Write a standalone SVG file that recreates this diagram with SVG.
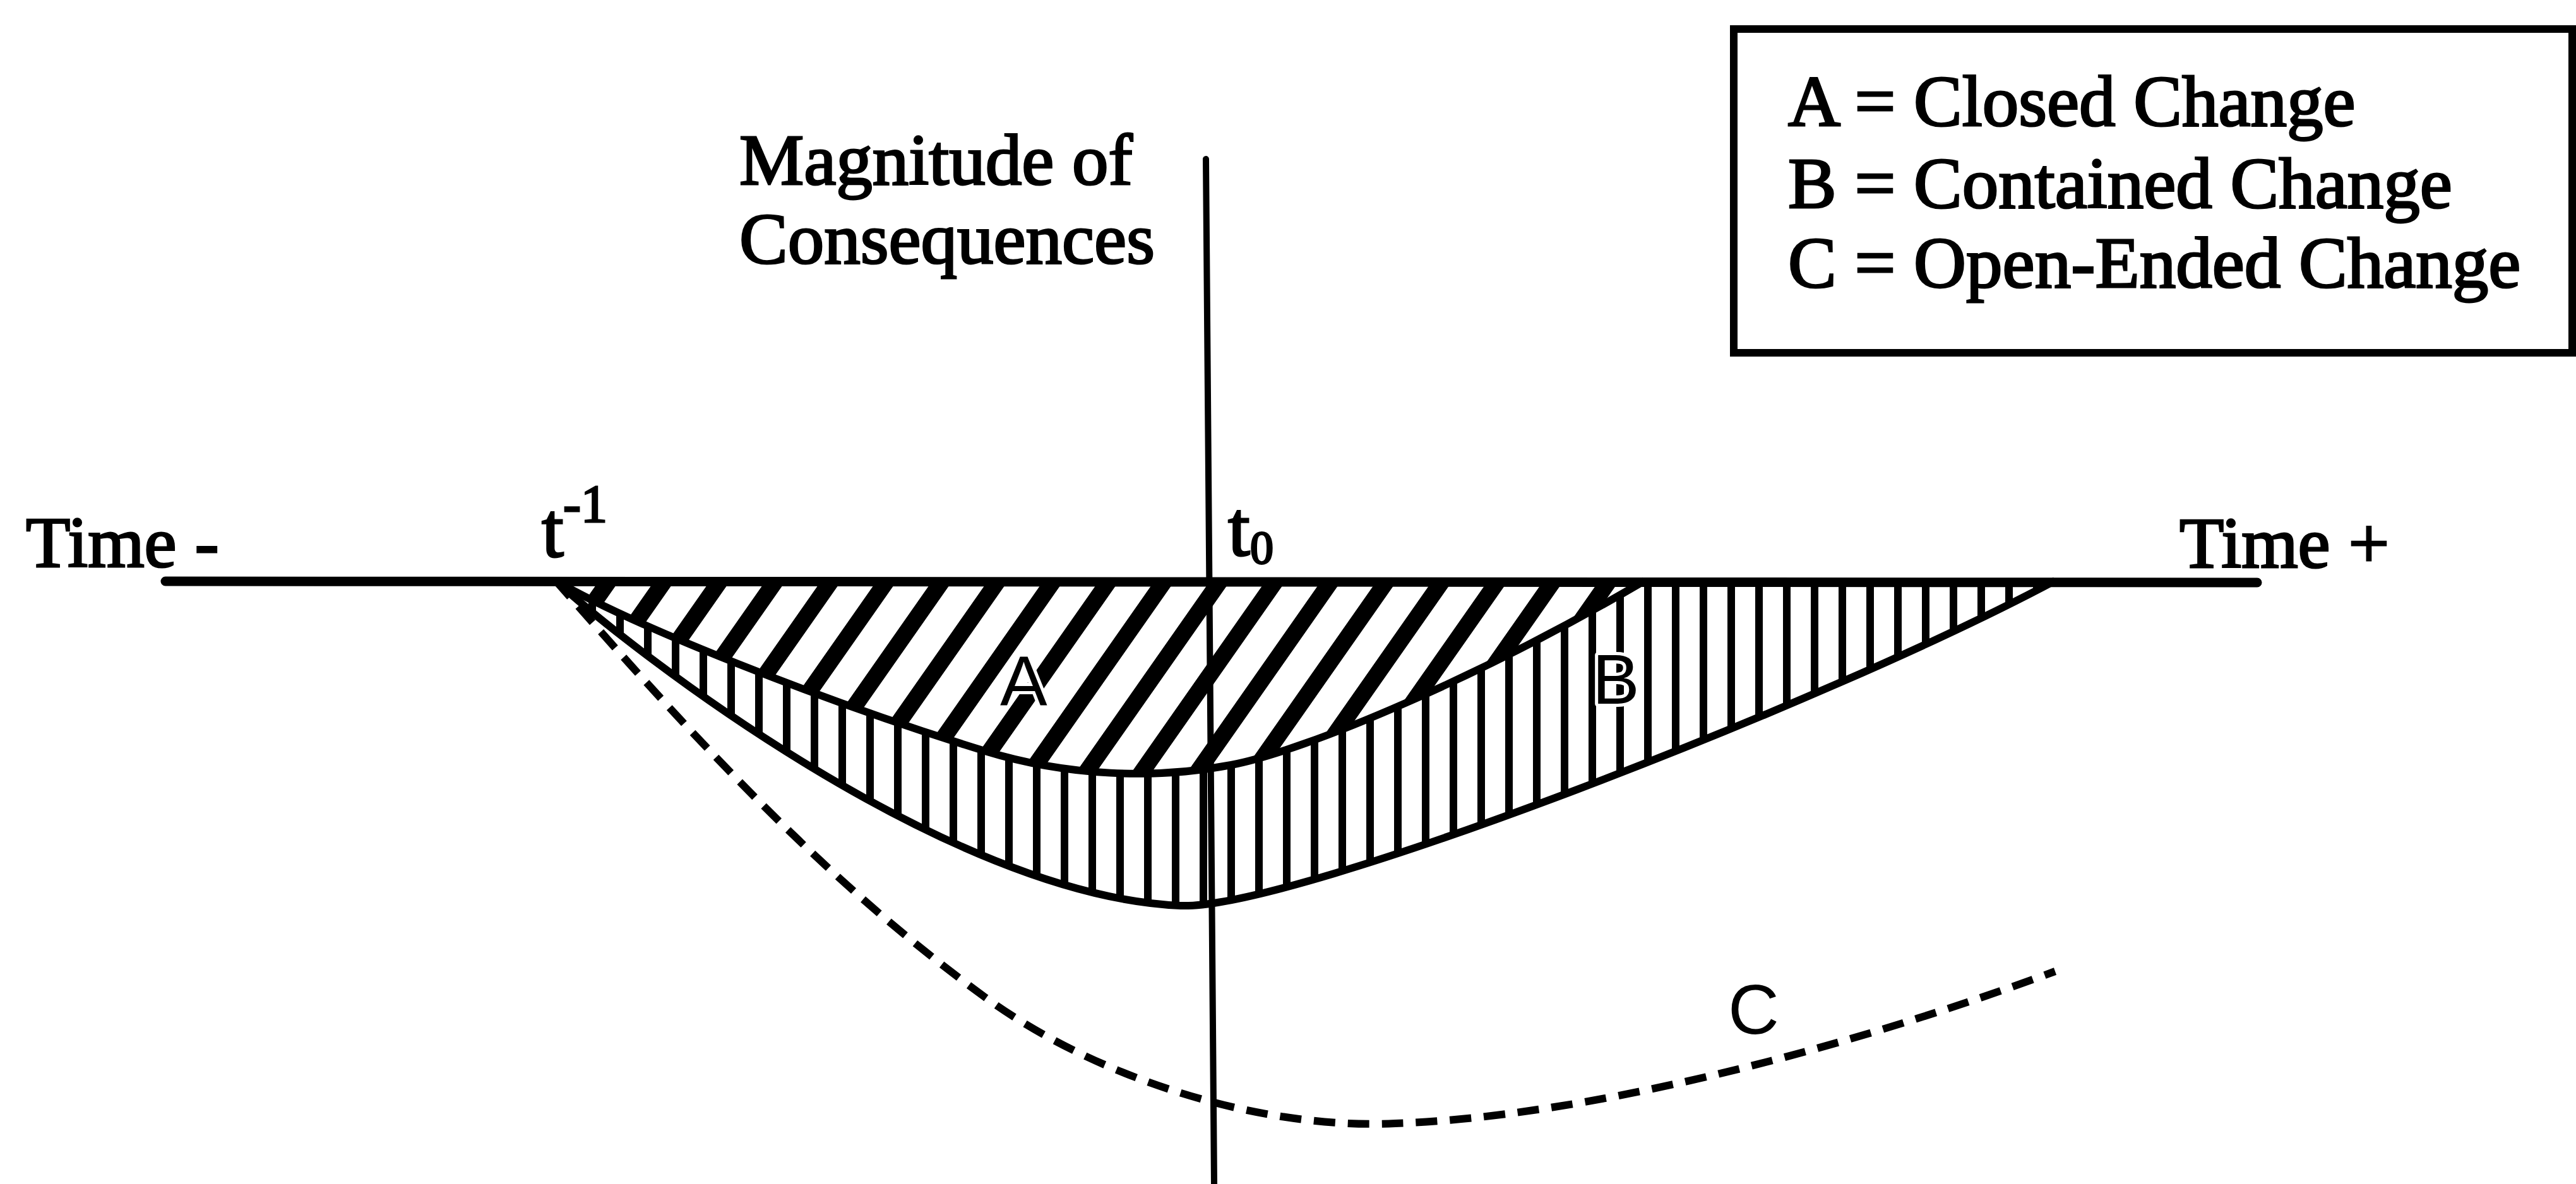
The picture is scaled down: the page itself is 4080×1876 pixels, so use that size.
<svg xmlns="http://www.w3.org/2000/svg" width="4080" height="1876" viewBox="0 0 4080 1876">
<style>
.serif{font-family:"Liberation Serif","Times New Roman",serif;font-size:115px;fill:#000;stroke:#000;stroke-width:3}
.sans{font-family:"Liberation Sans",Arial,sans-serif;font-size:112px;fill:#000;stroke:#fff;stroke-width:10;paint-order:stroke;stroke-linejoin:round}
.outline{fill:none;stroke:#000;stroke-width:12;stroke-linejoin:round}
.axis{fill:none;stroke:#000;stroke-linecap:round}
</style>
<defs>
<pattern id="diag" patternUnits="userSpaceOnUse" width="88" height="20" patternTransform="skewX(-35)">
<rect x="9" y="-1" width="32" height="22" fill="#000"/>
</pattern>
<pattern id="vert" patternUnits="userSpaceOnUse" width="44" height="20">
<rect x="8" y="-1" width="12" height="22" fill="#000"/>
</pattern>
</defs>
<rect width="4080" height="1876" fill="#fff"/>

<g id="regionB">
<path d="M 880 920 C 1000 1030 1500 1420 1870 1435 C 2050 1442 2900 1110 3255 920 Z" fill="url(#vert)"/>
</g>
<g id="regionA">
<path d="M 880 920 C 1000 990 1300 1110 1560 1190 C 1690 1230 1830 1235 1950 1212 C 2070 1189 2350 1070 2605 920 Z" fill="#fff"/>
<path d="M 880 920 C 1000 990 1300 1110 1560 1190 C 1690 1230 1830 1235 1950 1212 C 2070 1189 2350 1070 2605 920 Z" fill="url(#diag)"/>
</g>
<g id="curves">
<path class="outline" d="M 880 920 C 1000 990 1300 1110 1560 1190 C 1690 1230 1830 1235 1950 1212 C 2070 1189 2350 1070 2605 920"/>
<path class="outline" d="M 880 920 C 1000 1030 1500 1420 1870 1435 C 2050 1442 2900 1110 3255 920"/>
<path id="curveC" fill="none" stroke="#000" stroke-width="12" stroke-dasharray="34 20" d="M 880 920 C 1100 1170 1300 1390 1560 1580 C 1740 1711 2000 1790 2210 1780 C 2500 1770 2900 1670 3255 1539"/>
</g>
<g id="axes">
<line class="axis" x1="1910" y1="252" x2="1923" y2="1876" stroke-width="10"/>
<line class="axis" x1="262" y1="921" x2="3575" y2="923" stroke-width="15"/>
</g>

<g id="axis-labels">
<text class="serif" x="1171" y="292">Magnitude of</text>
<text class="serif" x="1171" y="417">Consequences</text>
<text class="serif" x="41" y="898">Time -</text>
<text class="serif" x="3452" y="899">Time +</text>
<text class="serif" x="858" y="882" style="font-size:125px">t</text>
<text class="serif" x="892" y="827" style="font-size:84px">-1</text>
<text class="serif" x="1945" y="880" style="font-size:125px">t</text>
<text class="serif" x="1980" y="893" style="font-size:74px">0</text>
</g>

<g id="region-labels">
<text class="sans" x="1584" y="1117">A</text>
<text class="sans" x="2522" y="1115">B</text>
<text class="sans" x="2737" y="1638">C</text>
</g>

<g id="legend">
<rect x="2746" y="46" width="1328" height="513" fill="#fff" stroke="#000" stroke-width="12"/>
<text class="serif" x="2832" y="199">A = Closed Change</text>
<text class="serif" x="2832" y="329">B = Contained Change</text>
<text class="serif" x="2832" y="455">C = Open-Ended Change</text>
</g>
</svg>
